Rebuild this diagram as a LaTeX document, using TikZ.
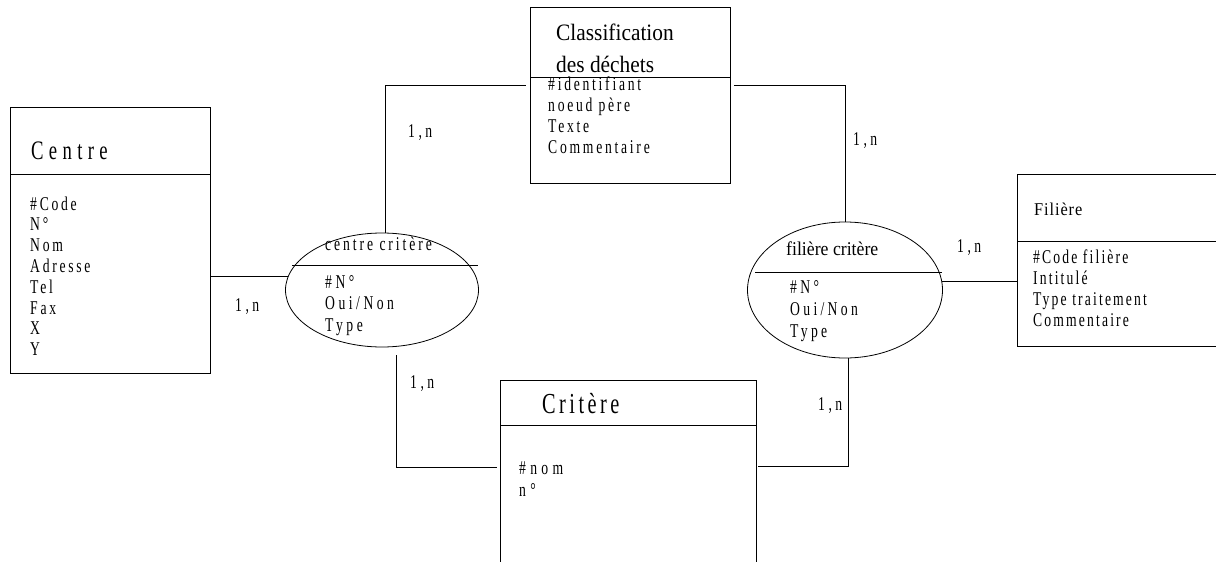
\documentclass[tikz,border=0pt]{standalone}
\usepackage{fontspec}
\setmainfont{Liberation Serif}
\newfontfamily\narrowfont[FakeStretch=0.91]{Liberation Serif}
\newfontfamily\tallfont[FakeStretch=0.7]{Liberation Serif}
\usetikzlibrary{calc,shapes.geometric}
\newcommand\lsp[1]{\addfontfeature{LetterSpace=#1}}

\begin{document}
\begin{tikzpicture}[x=1pt,y=-1pt,
		entity/.style={draw, rectangle, inner sep=0pt, anchor=north west, line width=0.9pt},
		rel/.style={draw, ellipse, inner sep=0pt, line width=0.8pt},
		link/.style={line width=0.8pt},
		attr/.style={anchor=base west, inner sep=0pt, font=\tallfont\fontsize{19.5}{22}\selectfont\lsp{#1}},
		attr/.default=14,
		card/.style={attr=18}]
			%%%%% START %%%%%
			\useasboundingbox (0,0) rectangle (1216,562);
			\clip (0,0) rectangle (1216,562);
			
			% Centre
			\node[entity, minimum width=200, minimum height=266] (ctr) at (10,107) {};
			\draw[link] (ctr.west |- 0,174) -- (ctr.east |- 0,174);
			\node[anchor=base west, inner sep=0pt, font=\tallfont\fontsize{26.7}{27}\selectfont\lsp{20}] (ctrT) at (31,159) {Centre};
			\foreach \t [count=\i] in {\#Code, N°, Nom, Adresse, Tel, Fax, X, Y}
				\node[attr] (ctr\i) at (30, 189.2+20.8*\i) {\t};
			
			% Classification des dechets
			\node[entity, minimum width=200, minimum height=176] (cls) at (530,7) {};
			\draw[link] (cls.west |- 0,77) -- (cls.east |- 0,77);
			\node[anchor=base west, inner sep=0pt, font=\narrowfont\fontsize{23.5}{23.5}\selectfont] (clsT) at (556,40) {Classification};
			\node[anchor=base west, inner sep=0pt, font=\narrowfont\fontsize{23.5}{23.5}\selectfont] (clsU) at (556,72) {des déchets};
			\foreach \t [count=\i] in {\#identifiant, noeud père, Texte, Commentaire}
				\node[attr] (cls\i) at (548, 69+21*\i) {\t};
			
			% Filiere
			\node[entity, minimum width=220, minimum height=172] (fil) at (1017,174) {};
			\draw[link] (fil.west |- 0,241) -- (fil.east |- 0,241);
			\node[anchor=base west, inner sep=0pt, font=\narrowfont\fontsize{18}{18}\selectfont\lsp{5}] (filT) at (1034,215) {Filière};
			\foreach \t [count=\i] in {\#Code filière, Intitulé, Type traitement, Commentaire}
				\node[attr=11] (fil\i) at (1033, 241.7+21.3*\i) {\t};
			
			% Critere
			\node[entity, minimum width=256, minimum height=200] (crit) at (500,380) {};
			\draw[link] (crit.west |- 0,425) -- (crit.east |- 0,425);
			\node[anchor=base west, inner sep=0pt, font=\tallfont\fontsize{29}{29}\selectfont\lsp{12}] (critT) at (542,413) {Critère};
			\node[attr=22] (crit1) at (519,474) {\#nom};
			\node[attr=22] (crit2) at (519,496) {n°};
			
			% centre critere
			\node[rel, minimum width=193, minimum height=114] (cc) at (382,290) {};
			\draw[link] (292,265) -- (478,265);
			\node[attr=15] (ccT) at (325,250) {centre critère};
			\foreach \t [count=\i] in {\#N°, Oui/Non, Type}
				\node[attr=18] (cc\i) at (325, 266.5+21.5*\i) {\t};
			
			% filiere critere
			\node[rel, minimum width=195, minimum height=136] (fc) at (845,290) {};
			\draw[link] (755,272) -- (942,272);
			\node[anchor=base west, inner sep=0pt, font=\narrowfont\fontsize{19.5}{20}\selectfont] (fcT) at (786,255) {filière critère};
			\foreach \t [count=\i] in {\#N°, Oui/Non, Type}
				\node[attr=17] (fc\i) at (790, 271+22*\i) {\t};
			
			% links
			\draw[link] (cc.172 -| ctr.east) -- (cc.172);
			\draw[link] ($(cc.north)+(3,0)$) |- ($(cls.north west)+(-4,78)$);
			\draw[link] ($(cls.north east)+(3,78)$) -| (fc.north);
			\draw[link] (fc.5) -- (fc.5 -| fil.west);
			\draw[link] ($(cc.south)+(14,8)$) |- ($(crit.north west)+(-3,87)$);
			\draw[link] ($(fc.south)+(3,0)$) |- ($(crit.north east)+(1,86)$);
			
			\node[card] (n1) at (235,311) {1,n};
			\node[card] (n2) at (408,137) {1,n};
			\node[card] (n3) at (853,145) {1,n};
			\node[card] (n4) at (957,252) {1,n};
			\node[card] (n5) at (410,388) {1,n};
			\node[card] (n6) at (818,410) {1,n};
			%%%%% END %%%%%
\end{tikzpicture}
\end{document}
